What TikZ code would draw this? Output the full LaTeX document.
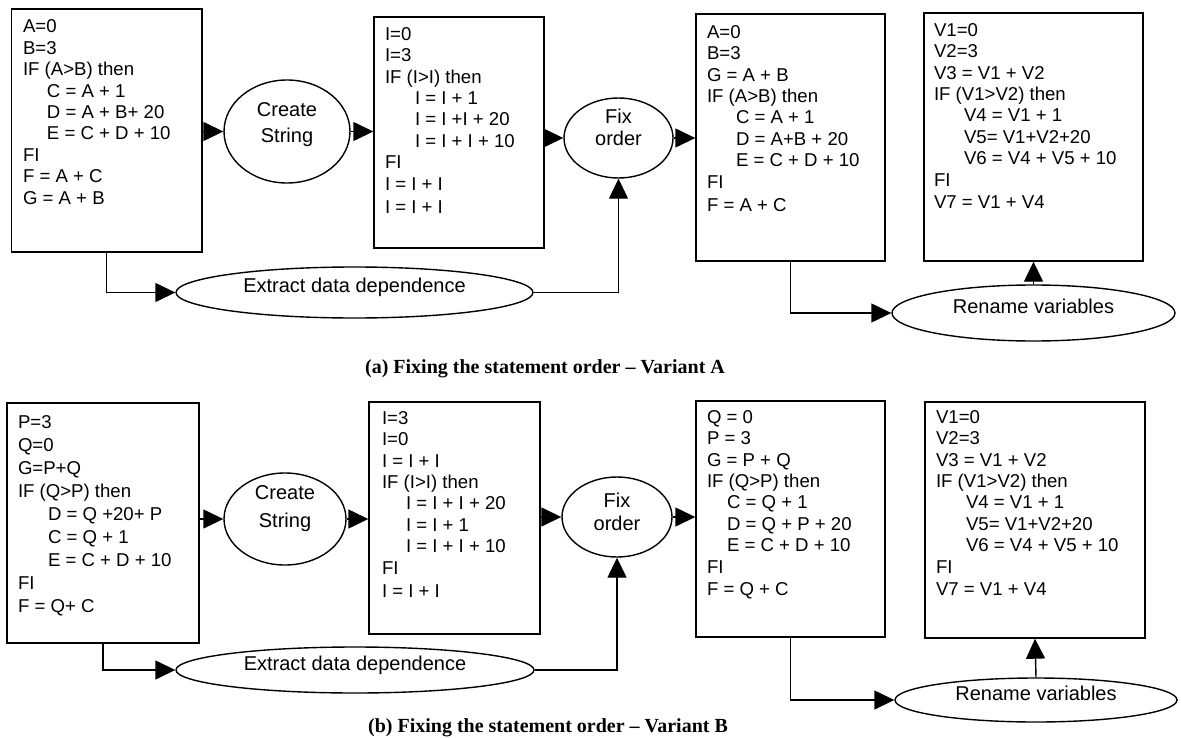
\documentclass[tikz,border=0pt]{standalone}
\usepackage{fontspec}
\setmainfont{Liberation Sans}
\newfontfamily\capfont{Liberation Serif}
\usetikzlibrary{positioning,shapes.geometric,arrows.meta}

\begin{document}
\begin{tikzpicture}[x=1pt,y=-1pt,line width=1.4pt,>={Triangle[length=20pt,width=19pt]},
  codebox/.style={draw,inner sep=0pt},
  code/.style={align=left,inner sep=0pt,font=\fontsize{18.6pt}{21.4pt}\selectfont},
  proc/.style={draw,ellipse,inner sep=0pt,font=\fontsize{20pt}{24pt}\selectfont,text depth=14pt},
  proctxt/.style={align=center,inner sep=0pt,font=\fontsize{20pt}{24pt}\selectfont},
  caption/.style={font=\fontsize{20pt}{24pt}\capfont\bfseries}]
\useasboundingbox (0,0) rectangle (1182,738);

% (a) variant A
\node[codebox,minimum width=190.5pt,minimum height=243pt] (srcA) at (106.75,130.5) {};
\node[code,below right=11pt and 11.5pt of srcA.north west] (srcAtxt) {A=0\\B=3\\IF (A>B) then\\\hspace*{24pt}C = A + 1\\\hspace*{24pt}D = A + B+ 20\\\hspace*{24pt}E = C + D + 10\\FI\\F = A + C\\G = A + B};
\node[proc,minimum width=126pt,minimum height=103pt] (createA) at (287,131.5) {};
\node[proctxt] (createAtxt) at (287,125) {Create\\[2pt]String};
\node[codebox,minimum width=170pt,minimum height=231pt] (strA) at (459,132.5) {};
\node[code,below right=10.3pt and 11pt of strA.north west] (strAtxt) {I=0\\I=3\\IF (I>I) then\\\hspace*{30pt}I = I + 1\\\hspace*{30pt}I = I +I + 20\\\hspace*{30pt}I = I + I + 10\\FI\\I = I + I\\[2.5pt]I = I + I};
\node[proc,minimum width=109pt,minimum height=80pt] (fixA) at (618.5,138) {};
\node[proctxt] (fixAtxt) at (618.5,127) {Fix\\[-2pt]order};
\node[codebox,minimum width=189pt,minimum height=247pt] (ordA) at (790.5,137.5) {};
\node[code,below right=11.3pt and 11pt of ordA.north west] (ordAtxt) {A=0\\B=3\\G = A + B\\IF (A>B) then\\\hspace*{29pt}C = A + 1\\\hspace*{29pt}D = A+B + 20\\\hspace*{29pt}E = C + D + 10\\FI\\[2.5pt]F = A + C};
\node[codebox,minimum width=219pt,minimum height=248pt] (renA) at (1033.5,137) {};
\node[code,below right=10.3pt and 10pt of renA.north west] (renAtxt) {V1=0\\V2=3\\V3 = V1 + V2\\IF (V1>V2) then\\\hspace*{30pt}V4 = V1 + 1\\\hspace*{30pt}V5= V1+V2+20\\\hspace*{30pt}V6 = V4 + V5 + 10\\FI\\[1.5pt]V7 = V1 + V4};
\node[proc,minimum width=357pt,minimum height=51pt] (extractA) at (354.5,292.5) {Extract data dependence};
\node[proc,minimum width=283pt,minimum height=56pt] (renameA) at (1033.5,313) {Rename variables};
\draw[->] (srcA.east |- createA.west) -- (createA.west);
\draw[->] (createA.east) -- (createA.east -| strA.west);
\draw[->] (strA.east |- fixA.west) -- (fixA.west);
\draw[->] (fixA.east) -- (fixA.east -| ordA.west);
\draw[->] (srcA.south) |- (extractA.west);
\draw[->] (extractA.east) -| (fixA.south);
\draw[->] (ordA.south) |- (renameA.west);
\draw[->] (renameA.north) -- (renA.south);
\node[caption] (capA) at (545,369) {(a) Fixing the statement order – Variant A};

% (b) variant B
\node[codebox,minimum width=192pt,minimum height=240pt] (srcB) at (103,523) {};
\node[code,below right=12.3pt and 11pt of srcB.north west,font=\fontsize{18.6pt}{23pt}\selectfont] (srcBtxt) {P=3\\Q=0\\G=P+Q\\IF (Q>P) then\\\hspace*{30pt}D = Q +20+ P\\\hspace*{30pt}C = Q + 1\\\hspace*{30pt}E = C + D + 10\\FI\\F = Q+ C};
\node[proc,minimum width=122pt,minimum height=92pt] (createB) at (285,519) {};
\node[proctxt] (createBtxt) at (285,509) {Create\\[4pt]String};
\node[codebox,minimum width=171pt,minimum height=232pt] (strB) at (454.5,518) {};
\node[code,below right=9.3pt and 13pt of strB.north west] (strBtxt) {I=3\\I=0\\I = I + I\\IF (I>I) then\\\hspace*{24pt}I = I + I + 20\\\hspace*{24pt}I = I + 1\\\hspace*{24pt}I = I + I + 10\\FI\\[2.5pt]I = I + I};
\node[proc,minimum width=110pt,minimum height=80pt] (fixB) at (617,517) {};
\node[proctxt] (fixBtxt) at (617,511.5) {Fix\\[-1pt]order};
\node[codebox,minimum width=189pt,minimum height=236pt] (ordB) at (790.5,519) {};
\node[code,below right=9.3pt and 11pt of ordB.north west] (ordBtxt) {Q = 0\\P = 3\\G = P + Q\\IF (Q>P) then\\\hspace*{20pt}C = Q + 1\\\hspace*{20pt}D = Q + P + 20\\\hspace*{20pt}E = C + D + 10\\FI\\[1.5pt]F = Q + C};
\node[codebox,minimum width=220pt,minimum height=236pt] (renB) at (1035,520) {};
\node[code,below right=8.3pt and 11pt of renB.north west] (renBtxt) {V1=0\\V2=3\\V3 = V1 + V2\\IF (V1>V2) then\\\hspace*{30pt}V4 = V1 + 1\\\hspace*{30pt}V5= V1+V2+20\\\hspace*{30pt}V6 = V4 + V5 + 10\\FI\\[1.5pt]V7 = V1 + V4};
\node[proc,minimum width=358pt,minimum height=46pt] (extractB) at (355,670) {Extract data dependence};
\node[proc,minimum width=282pt,minimum height=44pt] (renameB) at (1036,700) {Rename variables};
\draw[->] (srcB.east |- createB.west) -- (createB.west);
\draw[->] (createB.east) -- (createB.east -| strB.west);
\draw[->] (strB.east |- fixB.west) -- (fixB.west);
\draw[->] (fixB.east) -- (fixB.east -| ordB.west);
\draw[->] (srcB.south) |- (extractB.west);
\draw[->] (extractB.east) -| (fixB.south);
\draw[->] (ordB.south) |- (renameB.west);
\draw[->] (renameB.north) -- (renB.south);
\node[caption] (capB) at (548,728) {(b) Fixing the statement order – Variant B};
\end{tikzpicture}
\end{document}
